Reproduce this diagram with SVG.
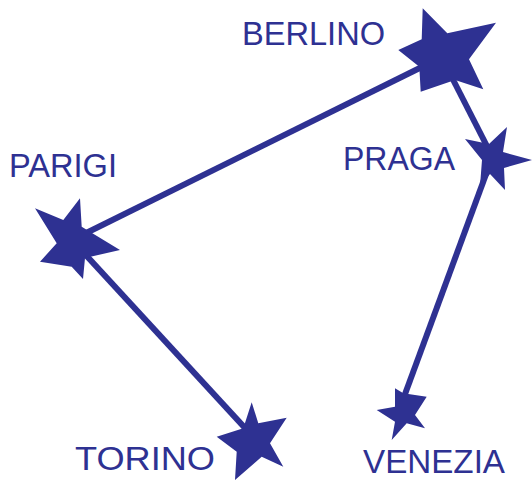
<svg xmlns="http://www.w3.org/2000/svg" width="532" height="481" viewBox="0 0 532 481">
<style>
.edge{stroke:#2e3192;stroke-width:6;fill:none;stroke-linecap:butt}
.star{fill:#2e3192}
.lbl{font-family:"Liberation Sans",Arial,sans-serif;font-size:33px;fill:#2e3192}
</style>
<rect width="532" height="481" fill="#fff"/>
<g id="connectors">
<line class="edge" x1="440" y1="58" x2="72" y2="240"/>
<line class="edge" x1="72" y1="240" x2="256" y2="440"/>
<line class="edge" x1="442" y1="58" x2="493" y2="158"/>
<line class="edge" x1="492" y1="158" x2="401" y2="405"/>
</g>
<g id="berlino">
<polygon class="star" points="422.7,8.3 447.3,33.3 496,22.7 469,59.3 483.3,89.3 455,80 420.7,91.7 419.3,66.7 398.3,50 421.7,39.3"/>
<text class="lbl" x="242" y="45" textLength="143" lengthAdjust="spacingAndGlyphs">BERLINO</text>
</g>
<g id="parigi">
<polygon class="star" points="80,198.3 81.7,226.7 120,250 85,258 83,279 71.7,266.7 40,261.7 56.7,243.3 35,208.3 63.3,220"/>
<text class="lbl" x="9" y="177" textLength="108" lengthAdjust="spacingAndGlyphs">PARIGI</text>
</g>
<g id="praga">
<polygon class="star" points="465,139 489,144 507,127 503,152 532,160 504,168 505,190 490,174 480,186 482,160"/>
<text class="lbl" x="343" y="170" textLength="112" lengthAdjust="spacingAndGlyphs">PRAGA</text>
</g>
<g id="torino">
<polygon class="star" points="251.7,402.3 258.3,423.3 286.7,417.7 270,443.3 283.3,466.7 261.7,456.7 235,480 236.7,451.7 216.7,436.7 243.3,428.3"/>
<text class="lbl" x="75" y="470" textLength="140" lengthAdjust="spacingAndGlyphs">TORINO</text>
</g>
<g id="venezia">
<polygon class="star" points="395,388.3 403.3,393.3 426.7,396.7 415,415 425,428.3 406.7,423.3 391.7,440 395,421.7 376.7,410 395,406.7"/>
<text class="lbl" x="363" y="473" textLength="142" lengthAdjust="spacingAndGlyphs">VENEZIA</text>
</g>
</svg>
